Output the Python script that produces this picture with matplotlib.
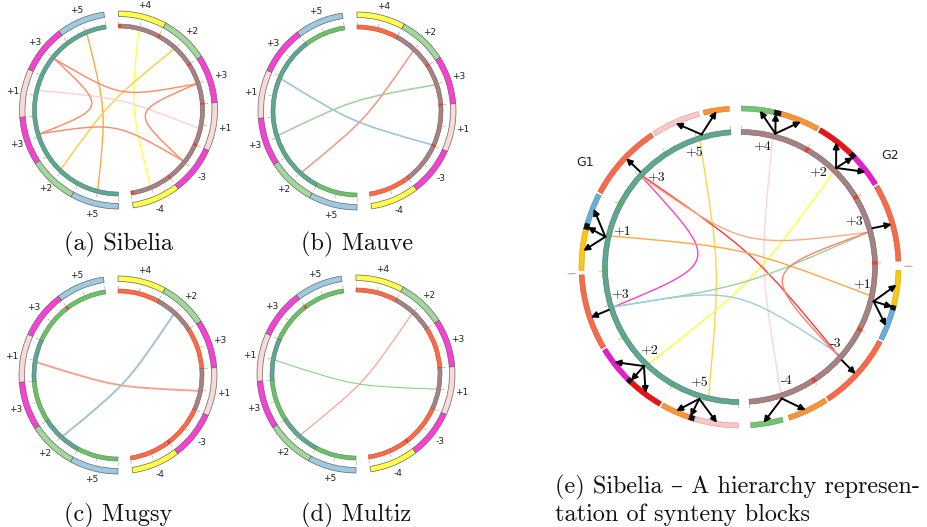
import numpy as np
import matplotlib
matplotlib.use("Agg")
import matplotlib.pyplot as plt
from matplotlib.patches import Wedge, PathPatch
from matplotlib.path import Path

FIG_W, FIG_H = 927, 527

# ---------------------------------------------------------------- data
# synteny blocks of the two genomes, read from the top gap downwards
g1_labels = ["+5", "+3", "+1", "+3", "+2", "+5"]
g2_labels = ["+4", "+2", "+3", "+1", "-3", "-4"]
g1_outer_colors = ["#9ecae1", "#fb3fd6", "#fcd9d9", "#fb3fd6", "#a1d99b", "#9ecae1"]
g2_outer_colors = ["#ffff4a", "#a1d99b", "#fb3fd6", "#fcd9d9", "#fb3fd6", "#ffff4a"]

TEAL, MAUVE, GREEN, TOMATO = "#5fa792", "#a68282", "#6cc067", "#fd6a45"

# inner ring colouring: (start, end, colour) in block units along each genome
sibelia_g1 = [(0, 6, TEAL)]
sibelia_g2 = [(0, 6, MAUVE)]
mauve_g1 = [(0, 1, GREEN), (1, 5, TEAL), (5, 6, GREEN)]
mauve_g2 = [(0, 1, TOMATO), (1, 5, MAUVE), (5, 6, TOMATO)]
mugsy_g1 = [(0, 2, GREEN), (2, 3, TEAL), (3, 4, GREEN), (4, 5, TEAL), (5, 6, GREEN)]
mugsy_g2 = [(0, 1, TOMATO), (1, 2, MAUVE), (2, 3, TOMATO), (3, 4, MAUVE), (4, 6, TOMATO)]
multiz_g1 = [(0, 2, GREEN), (2, 3, TEAL), (3, 4, GREEN), (4, 5, TEAL), (5, 6, GREEN)]
multiz_g2 = [(0, 1, TOMATO), (1, 2, MAUVE), (2, 3, TOMATO), (3, 4, MAUVE), (4, 6, TOMATO)]

# links: (genome, position, genome, position, colour)
links_sibelia = [
    ("G1", 0.49, "G1", 5.49, "#ffa940"),
    ("G2", 0.50, "G2", 5.50, "#ffff40"),
    ("G1", 4.45, "G2", 1.48, "#ffcc40"),
    ("G1", 2.37, "G2", 3.60, "#ffd0d0"),
    ("G1", 1.50, "G1", 3.44, "#ff8866"),
    ("G2", 2.50, "G2", 4.49, "#ff8866"),
    ("G1", 1.50, "G2", 2.50, "#ff8866"),
    ("G1", 3.44, "G2", 4.49, "#ff8866"),
]
links_mauve = [
    ("G1", 2.05, "G2", 4.00, "#9dc3dd"),
    ("G1", 3.45, "G2", 2.50, "#a5d39f"),
    ("G1", 4.53, "G2", 1.51, "#eba08c"),
]
links_mugsy = [
    ("G1", 2.54, "G2", 3.54, "#f3a38e"),
    ("G1", 4.53, "G2", 1.49, "#a3c3da"),
]
links_multiz = [
    ("G1", 2.51, "G2", 3.52, "#8fd08d"),
    ("G1", 4.52, "G2", 1.50, "#ff9a88"),
]
captions = ["(a) Sibelia", "(b) Mauve", "(c) Mugsy", "(d) Multiz"]

# panel (e): hierarchy of blocks
e_g1_inner = [(0, 6, TEAL)]
e_g2_inner = [(0, 6, MAUVE)]
ORANGE, PINK, TOM2, BLUE, GOLD, MAG2, RED, GRN2, BLK = (
    "#f99537", "#fbc6c6", "#f96a48", "#6aaed6", "#fdc80e", "#ea1ad0", "#ee1111", "#74c476", "#111111")
e_g1_outer = [(0.00, 0.32, ORANGE), (0.38, 1.00, PINK), (1.00, 2.00, TOM2), (2.00, 2.40, BLUE),
              (2.40, 2.48, BLK), (2.48, 3.00, GOLD), (3.04, 4.00, TOM2), (4.00, 4.48, MAG2),
              (4.48, 4.54, BLK), (4.54, 5.00, RED), (5.00, 5.38, ORANGE), (5.38, 5.45, BLK),
              (5.45, 6.00, PINK)]
e_g2_outer = [(0.00, 0.41, GRN2), (0.41, 0.50, BLK), (0.50, 1.00, ORANGE), (1.00, 1.50, RED),
              (1.50, 1.57, BLK), (1.57, 2.00, MAG2), (2.00, 3.00, TOM2), (3.10, 3.54, GOLD),
              (3.54, 3.60, BLK), (3.60, 4.00, BLUE), (4.00, 5.00, TOM2), (5.00, 5.52, ORANGE),
              (5.60, 6.00, GRN2)]
# grey tick marks outside the outer ring: (genome, position)
e_outer_ticks = [("G1", 3.02), ("G2", 3.05)]
# arrows: (genome, from position on inner ring, to position on outer ring)
e_arrows = [
    ("G1", 0.42, 0.16), ("G1", 0.42, 0.69), ("G1", 1.45, 1.45),
    ("G1", 2.51, 2.20), ("G1", 2.51, 2.44), ("G1", 2.51, 2.74),
    ("G1", 3.56, 3.58),
    ("G1", 4.51, 4.21), ("G1", 4.51, 4.52), ("G1", 4.51, 4.76),
    ("G1", 5.43, 5.20), ("G1", 5.43, 5.39), ("G1", 5.43, 5.73),
    ("G2", 0.49, 0.23), ("G2", 0.49, 0.43), ("G2", 0.49, 0.76),
    ("G2", 1.49, 1.27), ("G2", 1.49, 1.55), ("G2", 1.49, 1.79),
    ("G2", 2.50, 2.52),
    ("G2", 3.55, 3.28), ("G2", 3.55, 3.56), ("G2", 3.55, 3.81),
    ("G2", 4.51, 4.52),
    ("G2", 5.53, 5.29), ("G2", 5.53, 5.84),
]
e_links = [
    ("G1", 0.47, "G1", 5.55, "#ffd24a"),
    ("G2", 0.47, "G2", 5.52, "#ffd4d4"),
    ("G2", 1.51, "G1", 4.54, "#ffff33"),
    ("G1", 1.49, "G1", 3.54, "#ff40cc"),
    ("G1", 1.47, "G2", 4.49, "#ff3a3a"),
    ("G1", 1.49, "G2", 2.54, "#fcab7a"),
    ("G1", 2.48, "G2", 3.48, "#ffa742"),
    ("G1", 3.54, "G2", 2.54, "#9fd09a"),
    ("G1", 3.54, "G2", 4.47, "#9ccbe8"),
    ("G2", 2.54, "G2", 4.50, "#ff8068"),
]
# label anchors along each genome for panel (e)
e_g1_label_pos = [0.62, 1.33, 2.36, 3.38, 4.40, 5.36]
e_g2_label_pos = [0.33, 1.33, 2.31, 3.34, 4.38, 5.38]
e_caption_lines = ["(e) Sibelia – A hierarchy represen-", "tation of synteny blocks"]

# ---------------------------------------------------------------- layout
SERIF = ["cmr10", "DejaVu Serif"]
fig = plt.figure(figsize=(FIG_W / 100, FIG_H / 100), dpi=100)
ax = fig.add_axes([0, 0, 1, 1])
ax.set_xlim(0, FIG_W)
ax.set_ylim(0, FIG_H)
ax.axis("off")


class Layout:
    def __init__(self, cx, cy_px, start, gap, unit):
        self.c = np.array([cx, FIG_H - cy_px], dtype=float)
        self.start, self.gap, self.unit = start, gap, unit

    def ang(self, genome, q):
        if genome == "G1":
            return self.start + self.gap + q * self.unit
        return self.start - q * self.unit

    def u(self, a):
        t = np.radians(a)
        return np.array([np.cos(t), np.sin(t)])

    def pt(self, r, a):
        return self.c + r * self.u(a)


def arc(L, genome, q0, q1, r_out, width, color, ec="none", lw=0.0, z=2):
    a0, a1 = sorted((L.ang(genome, q0), L.ang(genome, q1)))
    ax.add_patch(Wedge(tuple(L.c), r_out, a0, a1, width=width, facecolor=color,
                       edgecolor=ec, linewidth=lw, zorder=z))


def draw_link(L, r, g0, q0, g1, q1, color, lw, bfrac=0.15):
    a0, a1 = L.ang(g0, q0), L.ang(g1, q1)
    u0, u1 = L.u(a0), L.u(a1)
    s = u0 + u1
    n = np.hypot(*s)
    d = s / n if n > 1e-9 else np.array([-u0[1], u0[0]])
    p0, p3 = L.c + r * u0, L.c + r * u1
    b = L.c + bfrac * r * d
    path = Path([p0, b, b, p3], [Path.MOVETO, Path.CURVE4, Path.CURVE4, Path.CURVE4])
    ax.add_patch(PathPatch(path, facecolor="none", edgecolor=color, lw=lw, zorder=1))


def darker(c, f=0.7):
    rgb = np.array(matplotlib.colors.to_rgb(c))
    return tuple(rgb * f)


def inner_ring(L, genome, segs, r_out, width):
    for q0, q1, col in segs:
        arc(L, genome, q0, q1, r_out, width, col, ec=darker(col), lw=0.4)
        for b in range(int(np.ceil(q0 + 1e-6)), int(np.floor(q1 - 1e-6)) + 1):
            mark = "#55b055" if col == TEAL else "#e8412b"
            arc(L, genome, b - 0.025, b + 0.025, r_out, width, mark, z=3)
    for q in np.arange(0, 6.01, 0.5):
        a = L.ang(genome, q)
        p0 = L.pt(r_out + 0.8, a)
        p1 = L.pt(r_out + 3.5, a)
        ax.plot([p0[0], p1[0]], [p0[1], p1[1]], color="#aaaaaa", lw=0.5, zorder=2)


# ---------------------------------------------------------------- small panels
small = [
    ((118.5, 110), sibelia_g1, sibelia_g2, links_sibelia, 1.0, 250),
    ((357.0, 111), mauve_g1, mauve_g2, links_mauve, 1.2, 250),
    ((118.0, 375), mugsy_g1, mugsy_g2, links_mugsy, 1.4, 521),
    ((356.0, 374), multiz_g1, multiz_g2, links_multiz, 0.8, 521),
]
GAP_S = 8.57
UNIT_S = (360 - 2 * GAP_S) / 12
for idx, (cpx, ig1, ig2, lks, llw, cap_y) in enumerate(small):
    L = Layout(cpx[0], cpx[1], 90.0, GAP_S, UNIT_S)
    for i in range(6):
        arc(L, "G1", i, i + 1, 99, 5.5, g1_outer_colors[i], ec="#666666", lw=0.5)
        arc(L, "G2", i, i + 1, 99, 5.5, g2_outer_colors[i], ec="#666666", lw=0.5)
        for g, labs in (("G1", g1_labels), ("G2", g2_labels)):
            x, y = L.pt(107.5, L.ang(g, i + 0.5))
            ax.text(x, y, labs[i], fontsize=6.5, ha="center", va="center",
                    color="#222222", family="DejaVu Sans")
    inner_ring(L, "G1", ig1, 86, 4)
    inner_ring(L, "G2", ig2, 86, 4)
    if idx == 0:
        for q in (0.0, 5.94):
            arc(L, "G2", q, q + 0.06, 86, 4, "#ee4422", z=3)
    for g0, q0, g1, q1, col in lks:
        draw_link(L, 82, g0, q0, g1, q1, col, llw)
    ax.text(cpx[0], FIG_H - cap_y, captions[idx], fontsize=17.5, ha="center",
            va="baseline", family=SERIF, color="#111111")

# ---------------------------------------------------------------- panel (e)
GAP_E = 4.4
UNIT_E = (360 - 2 * GAP_E) / 12
LE = Layout(740, 267, 89.5, GAP_E, UNIT_E)
for g, segs in (("G1", e_g1_outer), ("G2", e_g2_outer)):
    for q0, q1, col in segs:
        lo = q0 + (0.015 if abs(q0 - round(q0)) < 1e-6 and q0 > 0 else 0)
        hi = q1 - (0.015 if abs(q1 - round(q1)) < 1e-6 and q1 < 6 else 0)
        arc(LE, g, lo, hi, 161, 5, col, ec=darker(col, 0.8), lw=0.4)
for g, q in e_outer_ticks:
    p0 = LE.pt(165, LE.ang(g, q))
    p1 = LE.pt(172, LE.ang(g, q))
    ax.plot([p0[0], p1[0]], [p0[1], p1[1]], color="#999999", lw=0.7)
inner_ring(LE, "G1", e_g1_inner, 137.5, 5)
inner_ring(LE, "G2", e_g2_inner, 137.5, 5)
for g0, q0, g1, q1, col in e_links:
    draw_link(LE, 132.5, g0, q0, g1, q1, col, 1.0)
for g, q0, q1 in e_arrows:
    ps = LE.pt(138, LE.ang(g, q0))
    pe = LE.pt(157.5, LE.ang(g, q1))
    ax.annotate("", xy=tuple(pe), xytext=tuple(ps),
                arrowprops=dict(arrowstyle="-|>", color="black", lw=1.4,
                                mutation_scale=9, shrinkA=0, shrinkB=0),
                zorder=5)
for g, labs, poss in (("G1", g1_labels, e_g1_label_pos), ("G2", g2_labels, e_g2_label_pos)):
    for lab, q in zip(labs, poss):
        x, y = LE.pt(123, LE.ang(g, q))
        ax.text(x, y, lab, fontsize=10, ha="center", va="center", family=SERIF,
                color="#111111", zorder=6)
for lab, a in (("G1", 146.0), ("G2", 36.5)):
    x, y = LE.pt(187, a)
    ax.text(x, y, lab, fontsize=9, ha="center", va="center", family="DejaVu Sans",
            color="#222222")
for line, yb in zip(e_caption_lines, (493, 521)):
    ax.text(555, FIG_H - yb, line, fontsize=17.5, ha="left", va="baseline",
            family=SERIF, color="#111111")

fig.savefig("out.png", dpi=100)
